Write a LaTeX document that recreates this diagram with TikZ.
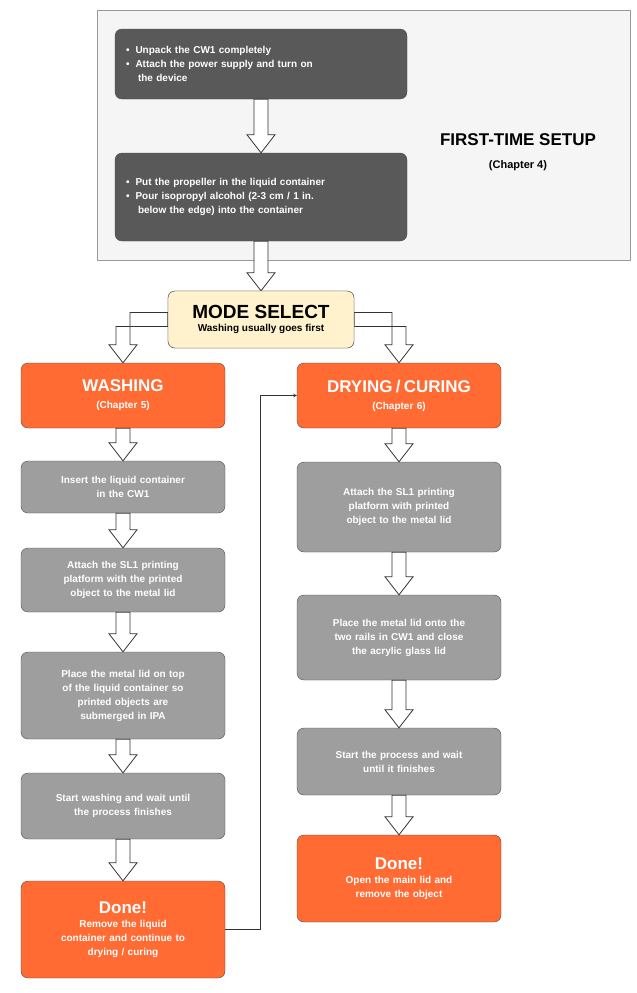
\documentclass[tikz,border=0pt]{standalone}
\usepackage{fontspec}
\setmainfont{Liberation Sans}
\usetikzlibrary{calc}
\definecolor{dk}{HTML}{595959}
\definecolor{gr}{HTML}{9E9E9E}
\definecolor{orng}{HTML}{FF6B33}
\definecolor{ylw}{HTML}{FFF2CC}
\definecolor{bg}{HTML}{F5F5F5}
\tikzset{
 box/.style={draw=black!70,rounded corners=7pt,minimum width=204pt,text=white,font=\bfseries\fontsize{10}{14}\selectfont,align=center,inner sep=2pt},
 dbox/.style={box,fill=dk,minimum width=292pt,align=left,text width=270pt},
 gbox/.style={box,fill=gr,text width=195pt},
 obox/.style={box,fill=orng,text width=195pt},
 barr/.style={draw=black!80,fill=white,line width=0.8pt},
 conn/.style={draw=black!80,line width=0.6pt,->,>=stealth}
}
\newcommand{\barrow}[2]{%
 \path let \p1=(#1.south),\p2=(#2.north) in
 [barr] (\x1-7pt,\y1) -- (\x1+7pt,\y1) -- (\x1+7pt,\y2+18pt) -- (\x1+14pt,\y2+18pt) -- (\x1,\y2) -- (\x1-14pt,\y2+18pt) -- (\x1-7pt,\y2+18pt) -- cycle;}
\begin{document}
\begin{tikzpicture}[x=1pt,y=-1pt]
\useasboundingbox (0,0) rectangle (637,993);
\draw[fill=bg,draw=black!40] (97,10) rectangle (630,260);
\node[dbox,minimum height=70pt] (s1) at (261,64) {\textbullet\hspace{6pt}Unpack the CW1 completely\\\textbullet\hspace{6pt}Attach the power supply and turn on\\\hspace{12pt}the device};
\node[dbox,minimum height=88pt] (s2) at (261,197) {\textbullet\hspace{6pt}Put the propeller in the liquid container\\\textbullet\hspace{6pt}Pour isopropyl alcohol (2-3 cm / 1 in.\\\hspace{12pt}below the edge) into the container};
\node[font=\bfseries\fontsize{17}{20}\selectfont] (ft) at (518,140) {FIRST-TIME SETUP};
\node[font=\bfseries\fontsize{11}{14}\selectfont] (ch4) at (518,166) {(Chapter 4)};
\node[box,fill=ylw,text=black,minimum width=186pt,minimum height=57pt,align=center] (ms) at (261,319.5) {{\fontsize{19}{22}\selectfont MODE SELECT}\\[-1pt]{\fontsize{10}{13}\selectfont Washing usually goes first}};
\barrow{s1}{s2}
\barrow{s2}{ms}
% left column
\node[obox,minimum height=65pt] (w) at (123,395.5) {{\fontsize{17}{20}\selectfont WASHING}\\[3pt]{\fontsize{10}{13}\selectfont (Chapter 5)}};
\node[gbox,minimum height=52pt] (w1) at (123,487) {Insert the liquid container\\in the CW1};
\node[gbox,minimum height=64pt] (w2) at (123,580) {Attach the SL1 printing\\platform with the printed\\object to the metal lid};
\node[gbox,minimum height=87pt] (w3) at (123,695.5) {Place the metal lid on top\\of the liquid container so\\printed objects are\\submerged in IPA};
\node[gbox,minimum height=66pt] (w4) at (123,806) {Start washing and wait until\\the process finishes};
\node[obox,minimum height=97pt] (w5) at (123,929.5) {{\fontsize{17}{20}\selectfont Done!}\\Remove the liquid\\container and continue to\\drying / curing};
% right column
\node[obox,minimum height=65pt] (d) at (399,395.5) {{\fontsize{17}{20}\selectfont DRYING / CURING}\\[3pt]{\fontsize{10}{13}\selectfont (Chapter 6)}};
\node[gbox,minimum height=90pt] (d1) at (399,507) {Attach the SL1 printing\\platform with printed\\object to the metal lid};
\node[gbox,minimum height=85pt] (d2) at (399,637.5) {Place the metal lid onto the\\two rails in CW1 and close\\the acrylic glass lid};
\node[gbox,minimum height=67pt] (d3) at (399,761.5) {Start the process and wait\\until it finishes};
\node[obox,minimum height=87pt] (d4) at (399,878.5) {{\fontsize{17}{20}\selectfont Done!}\\Open the main lid and\\remove the object};
\barrow{w}{w1}\barrow{w1}{w2}\barrow{w2}{w3}\barrow{w3}{w4}\barrow{w4}{w5}
\barrow{d}{d1}\barrow{d1}{d2}\barrow{d2}{d3}\barrow{d3}{d4}
% elbow arrows from mode select
\path let \p1=(ms.west),\p2=(w.north) in [barr]
 (\x1,\y1-7pt) -- (\x2-7pt,\y1-7pt) -- (\x2-7pt,\y2+18pt) -- (\x2-14pt,\y2+18pt) -- (\x2,\y2) -- (\x2+14pt,\y2+18pt) -- (\x2+7pt,\y2+18pt) -- (\x2+7pt,\y1+7pt) -- (\x1,\y1+7pt) -- cycle;
\path let \p1=(ms.east),\p2=(d.north) in [barr]
 (\x1,\y1-7pt) -- (\x2+7pt,\y1-7pt) -- (\x2+7pt,\y2+18pt) -- (\x2+14pt,\y2+18pt) -- (\x2,\y2) -- (\x2-14pt,\y2+18pt) -- (\x2-7pt,\y2+18pt) -- (\x2-7pt,\y1+7pt) -- (\x1,\y1+7pt) -- cycle;
\node[box,fill=ylw,text=black,minimum width=186pt,minimum height=57pt,align=center] at (ms) {{\fontsize{19}{22}\selectfont MODE SELECT}\\[-1pt]{\fontsize{10}{13}\selectfont Washing usually goes first}};
\coordinate (k1) at (260,929.5);
\coordinate (k2) at (260,395.5);
\draw[conn] (w5.east) -- (k1) -- (k2) -- (d.west);
\end{tikzpicture}
\end{document}
